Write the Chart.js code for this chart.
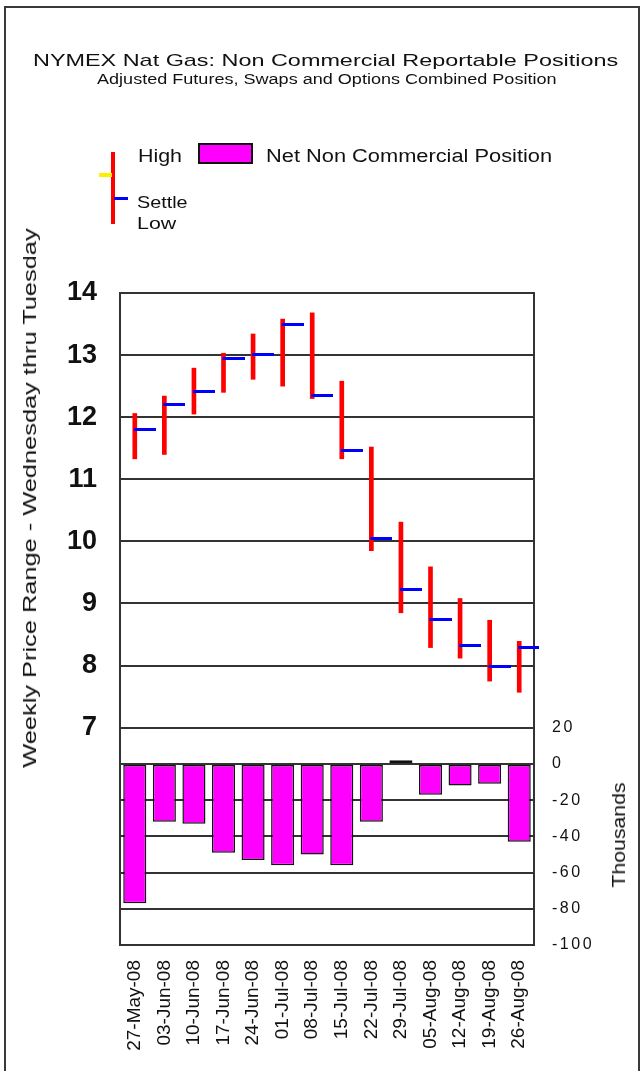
<!DOCTYPE html>
<html>
<head>
<meta charset="utf-8">
<title>NYMEX Nat Gas: Non Commercial Reportable Positions</title>
<script src="https://cdn.jsdelivr.net/npm/chart.js@4.4.1/dist/chart.umd.min.js"></script>
<style>
html,body{margin:0;padding:0;background:#fff;}
#wrap{position:relative;width:640px;height:1071px;overflow:hidden;background:#fff;font-family:"Liberation Sans",Arial,sans-serif;color:#111;}
#frame{position:absolute;left:4px;top:6px;width:632px;height:1200px;border:2px solid #3a3a3a;border-bottom:none;}
#c{position:absolute;left:0;top:0;width:640px;height:1071px;}
.t{position:absolute;white-space:nowrap;line-height:1;transform-origin:0 0;}
.r{position:absolute;white-space:nowrap;line-height:1;transform-origin:50% 50%;}
.mk{position:absolute;}
</style>
</head>
<body>
<div id="wrap">
  <div id="frame"></div>
  <canvas id="c" width="640" height="1071"></canvas>

  <div class="t" style="left:33px;top:52px;font-size:17px" data-w="585">NYMEX Nat Gas: Non Commercial Reportable Positions</div>
  <div class="t" style="left:97px;top:72px;font-size:14px" data-w="459">Adjusted Futures, Swaps and Options Combined Position</div>

  <div class="mk" style="left:111px;top:152px;width:4px;height:72px;background:#ff0000"></div>
  <div class="mk" style="left:99px;top:173px;width:13px;height:4px;background:#ffee00"></div>
  <div class="mk" style="left:114px;top:197px;width:14px;height:3px;background:#0000ff"></div>
  <div class="mk" style="left:198px;top:143px;width:55px;height:21px;background:#ff00ff;border:2px solid #111;box-sizing:border-box"></div>
  <div class="t" style="left:138px;top:147px;font-size:18px" data-w="44">High</div>
  <div class="t" style="left:266px;top:147px;font-size:18px" data-w="286">Net Non Commercial Position</div>
  <div class="t" style="left:137px;top:194px;font-size:17px" data-w="50">Settle</div>
  <div class="t" style="left:137px;top:215px;font-size:17px" data-w="39">Low</div>

  <div class="r" style="left:30px;top:498px;font-size:18px" data-w="540">Weekly Price Range - Wednesday thru Tuesday</div>
  <div class="r" style="left:619px;top:835px;font-size:18px" data-w="105">Thousands</div>
</div>
<script>
// ---- data ----
const categories = ['27-May-08','03-Jun-08','10-Jun-08','17-Jun-08','24-Jun-08','01-Jul-08','08-Jul-08','15-Jul-08','22-Jul-08','29-Jul-08','05-Aug-08','12-Aug-08','19-Aug-08','26-Aug-08'];
const priceHigh   = [12.06, 12.34, 12.79, 13.03, 13.34, 13.58, 13.68, 12.58, 11.52, 10.31, 9.59, 9.08, 8.73, 8.39];
const priceLow    = [11.33, 11.40, 12.05, 12.40, 12.61, 12.50, 12.30, 11.33,  9.85,  8.85, 8.29, 8.12, 7.75, 7.57];
const priceSettle = [11.80, 12.21, 12.42, 12.94, 13.01, 13.50, 12.35, 11.46, 10.04,  9.22, 8.74, 8.32, 7.98, 8.29];
const netPosition = [-77, -32, -33, -49, -53, -56, -50, -56, -32, 2, -17, -12, -11, -43];
const priceTicks = [7, 8, 9, 10, 11, 12, 13, 14];
const netTicks = [20, 0, -20, -40, -60, -80, -100];

// stretch html labels to the widths seen in the reference
document.querySelectorAll('[data-w]').forEach(el => {
  const k = (+el.dataset.w) / el.offsetWidth;
  if (el.classList.contains('r')) el.style.transform = `translate(-50%,-50%) rotate(-90deg) scaleX(${k})`;
  else el.style.transform = `scaleX(${k})`;
});

// settle marker: a short blue tick to the right of the high-low bar
const settleMarker = document.createElement('canvas');
settleMarker.width = 42; settleMarker.height = 3;
(function(){ const g = settleMarker.getContext('2d'); g.fillStyle = '#0000ff'; g.fillRect(20, 0, 22, 3); })();

const FONT = '"Liberation Sans", Arial, sans-serif';
const GRID = '#333333';

const labelSpacing = {
  id: 'labelSpacing',
  beforeDraw(chart) {
    const s = chart.scales.yNet;
    if (s && !s._spPatched) {
      const orig = s.drawLabels.bind(s);
      s.drawLabels = function(area) { const ctx = this.ctx; ctx.save(); ctx.letterSpacing = '2.5px'; orig(area); ctx.restore(); };
      s._spPatched = true;
    }
  }
};
const frameTop = {
  id: 'frameTop',
  afterDatasetsDraw(chart) {
    const {ctx, chartArea: a} = chart;
    ctx.save(); ctx.strokeStyle = GRID; ctx.lineWidth = 2;
    ctx.beginPath(); ctx.moveTo(a.left - 1, a.top); ctx.lineTo(a.right + 1, a.top); ctx.stroke();
    ctx.restore();
  }
};

new Chart(document.getElementById('c'), {
  data: {
    labels: categories,
    datasets: [
      {
        type: 'line', label: 'Settle', data: priceSettle, yAxisID: 'yPrice',
        showLine: false, pointStyle: settleMarker, pointRadius: 3, order: 1
      },
      {
        type: 'bar', label: 'High / Low', yAxisID: 'yPrice',
        data: categories.map((_, i) => [priceLow[i], priceHigh[i]]),
        backgroundColor: '#ff0000', borderWidth: 0, barThickness: 4, grouped: false, order: 2
      },
      {
        type: 'bar', label: 'Net Non Commercial Position', data: netPosition, yAxisID: 'yNet',
        backgroundColor: '#ff00ff', borderColor: '#111', borderWidth: 1.5, borderSkipped: false,
        grouped: false, categoryPercentage: 1, barPercentage: 0.78, order: 3
      }
    ]
  },
  options: {
    responsive: false, animation: false, devicePixelRatio: 1,
    layout: { padding: { top: 293, left: 0, right: 0, bottom: 0 } },
    plugins: { legend: { display: false }, tooltip: { enabled: false }, title: { display: false } },
    scales: {
      x: {
        type: 'category', offset: true,
        grid: { display: false, drawTicks: false },
        border: { display: true, color: GRID, width: 2 },
        ticks: { autoSkip: false, minRotation: 90, maxRotation: 90, padding: 15, color: '#111', font: { family: FONT, size: 19 } },
        afterFit(s) { s.height = 126; }
      },
      yPrice: {
        type: 'linear', position: 'left', min: 3.5, max: 14,
        afterBuildTicks(s) { s.ticks = priceTicks.map(v => ({ value: v })); },
        grid: { drawTicks: false, lineWidth: 2, color: c => (c.tick && c.tick.value < 14) ? GRID : 'rgba(0,0,0,0)' },
        border: { display: true, color: GRID, width: 2 },
        ticks: { padding: 23, color: '#111', font: { family: FONT, size: 27, weight: 'bold' } },
        afterFit(s) { s.width = 120; }
      },
      yNet: {
        type: 'linear', position: 'right', min: -100, max: 260,
        afterBuildTicks(s) { s.ticks = netTicks.map(v => ({ value: v })); },
        grid: { drawTicks: false, drawOnChartArea: true, lineWidth: 2,
                color: c => (c.tick && c.tick.value <= 0 && c.tick.value > -100) ? GRID : 'rgba(0,0,0,0)' },
        border: { display: true, color: GRID, width: 2 },
        ticks: { padding: 18, color: '#111', font: { family: FONT, size: 16 } },
        afterFit(s) { s.width = 106; }
      }
    }
  },
  plugins: [labelSpacing, frameTop]
});
</script>
</body>
</html>
